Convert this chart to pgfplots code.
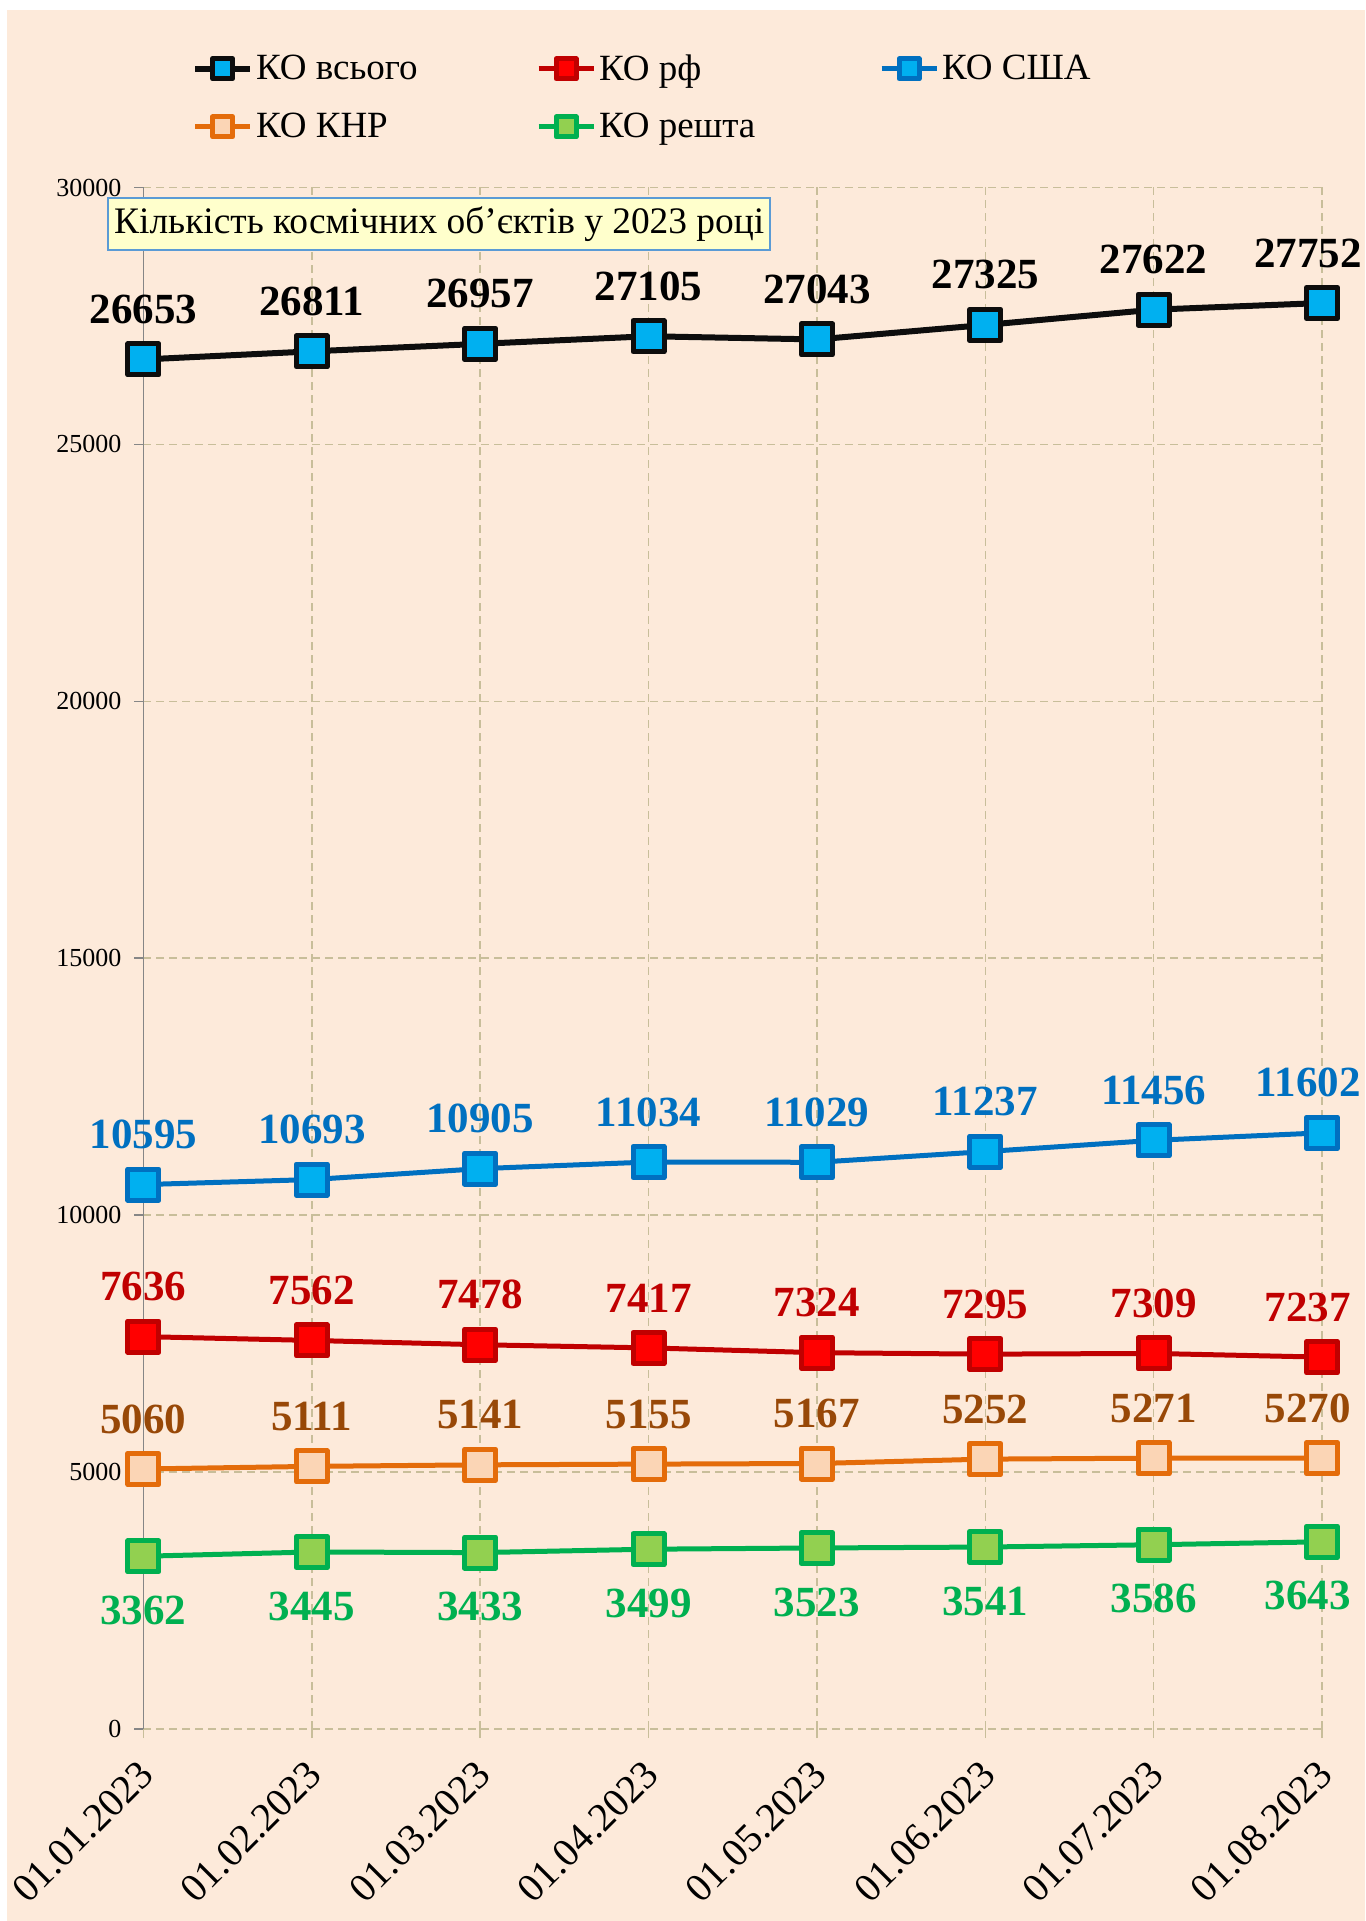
\documentclass[border=0pt]{standalone}
\usepackage{pgfplots}
\pgfplotsset{compat=1.18}
\usepackage{fontspec}
\setmainfont{Liberation Serif}
\definecolor{bg}{HTML}{FDEADA}
\definecolor{gridc}{HTML}{C8BE9A}
\definecolor{axgray}{HTML}{868686}
\definecolor{boxblue}{HTML}{5B9BD5}
\definecolor{boxyellow}{HTML}{FFFFCC}
\definecolor{cyanfill}{HTML}{00B0F0}
\definecolor{blk}{HTML}{0D0D0D}
\definecolor{rfline}{HTML}{C00000}
\definecolor{rffill}{HTML}{FF0000}
\definecolor{usline}{HTML}{0070C0}
\definecolor{cnline}{HTML}{E46C0A}
\definecolor{cnfill}{HTML}{FBD5B5}
\definecolor{cnlab}{HTML}{984807}
\definecolor{restline}{HTML}{00B050}
\definecolor{restfill}{HTML}{92D050}
\newcommand\Ls[1]{\kern-14pt#1}
\begin{document}
\begin{tikzpicture}
\useasboundingbox (-71.7pt,-96pt) rectangle (610.8pt,864.5pt);
\fill[bg] (-68.2pt,-96pt) rectangle (610.8pt,859.5pt);
\begin{axis}[
  at={(0,0)}, anchor=south west,
  scale only axis, width=589.3pt, height=770.75pt,
  xmin=0, xmax=7, ymin=0, ymax=30000,
  xtick={0,...,7},
  xticklabels={01.01.2023,01.02.2023,01.03.2023,01.04.2023,01.05.2023,01.06.2023,01.07.2023,01.08.2023},
  ytick={0,5000,...,30000},
  scaled y ticks=false,
  /pgf/number format/1000 sep={},
  /pgf/number format/assume math mode=true,
  grid=major,
  grid style={color=gridc, line width=0.75pt, dash pattern=on 4pt off 2.5pt},
  axis lines*=left, separate axis lines,
  x axis line style={draw=none},
  y axis line style={draw=axgray, line width=0.75pt},
  tick align=outside, major tick length=4.5pt,
  y tick style={draw=axgray, line width=0.75pt},
  x tick style={draw=gridc, line width=0.75pt},
  yticklabel style={font=\fontsize{13}{15}\selectfont, xshift=-3pt},
  xticklabel style={font=\fontsize{20}{24}\selectfont, xshift=4pt, yshift=-12.5pt, rotate=45, anchor=east},
  clip=false,
  legend columns=3,
  legend cell align=left,
  legend style={at={(0.041,1.0885)}, anchor=north west, draw=none, fill=none,
    font=\fontsize{18.5}{22}\selectfont, inner sep=0pt, row sep=12pt,
    /tikz/every even column/.append style={column sep=0pt},
    nodes={inner sep=1.5pt}},
  legend image code/.code={\draw[mark repeat=2,mark phase=2,#1, mark size=5pt] plot coordinates {(0pt,0pt) (13.75pt,0pt) (27.5pt,0pt)};},
  point meta=explicit symbolic,
  nodes near coords,
]
\addplot[color=blk, line width=3pt, line join=round, mark=square*, mark size=7.75pt,
  mark options={fill=cyanfill, draw=blk, line width=2.5pt},
  every node near coord/.append style={anchor=center, yshift=25pt, text=black,
    font=\fontsize{21.5}{25}\selectfont\bfseries}]
  table[x=x,y=y,meta=l] {
x y l
0 26653 26653
1 26811 26811
2 26957 26957
3 27105 27105
4 27043 27043
5 27325 27325
6 27622 27622
7 27752 \Ls{27752}
};
\addlegendentry{\makebox[138.5pt][l]{КО всього}}
\addplot[color=rfline, line width=2.5pt, line join=round, mark=square*, mark size=7.75pt,
  mark options={fill=rffill, draw=rfline, line width=2.5pt},
  every node near coord/.append style={anchor=center, yshift=25pt, text=rfline,
    font=\fontsize{21.5}{25}\selectfont\bfseries}]
  table[x=x,y=y,meta=l] {
x y l
0 7636 7636
1 7562 7562
2 7478 7478
3 7417 7417
4 7324 7324
5 7295 7295
6 7309 7309
7 7237 \Ls{7237}
};
\addlegendentry{\makebox[138.5pt][l]{КО рф}}
\addplot[color=usline, line width=2.5pt, line join=round, mark=square*, mark size=7.75pt,
  mark options={fill=cyanfill, draw=usline, line width=2.5pt},
  every node near coord/.append style={anchor=center, yshift=25pt, text=usline,
    font=\fontsize{21.5}{25}\selectfont\bfseries}]
  table[x=x,y=y,meta=l] {
x y l
0 10595 10595
1 10693 10693
2 10905 10905
3 11034 11034
4 11029 11029
5 11237 11237
6 11456 11456
7 11602 \Ls{11602}
};
\addlegendentry{\makebox[138.5pt][l]{КО США}}
\addplot[color=cnline, line width=2.5pt, line join=round, mark=square*, mark size=7.75pt,
  mark options={fill=cnfill, draw=cnline, line width=2.5pt},
  every node near coord/.append style={anchor=center, yshift=25pt, text=cnlab,
    font=\fontsize{21.5}{25}\selectfont\bfseries}]
  table[x=x,y=y,meta=l] {
x y l
0 5060 5060
1 5111 5111
2 5141 5141
3 5155 5155
4 5167 5167
5 5252 5252
6 5271 5271
7 5270 \Ls{5270}
};
\addlegendentry{\makebox[138.5pt][l]{КО КНР}}
\addplot[color=restline, line width=2.5pt, line join=round, mark=square*, mark size=7.75pt,
  mark options={fill=restfill, draw=restline, line width=2.5pt},
  every node near coord/.append style={anchor=center, yshift=-27pt, text=restline,
    font=\fontsize{21.5}{25}\selectfont\bfseries}]
  table[x=x,y=y,meta=l] {
x y l
0 3362 3362
1 3445 3445
2 3433 3433
3 3499 3499
4 3523 3523
5 3541 3541
6 3586 3586
7 3643 \Ls{3643}
};
\addlegendentry{\makebox[138.5pt][l]{КО решта}}
\end{axis}
\node[anchor=north west, draw=boxblue, fill=boxyellow, line width=0.8pt, inner xsep=3pt,
  minimum height=26pt, font=\fontsize{18.7}{22}\selectfont] at (-18pt,766pt)
  {Кількість космічних об’єктів у 2023 році};
\end{tikzpicture}
\end{document}
